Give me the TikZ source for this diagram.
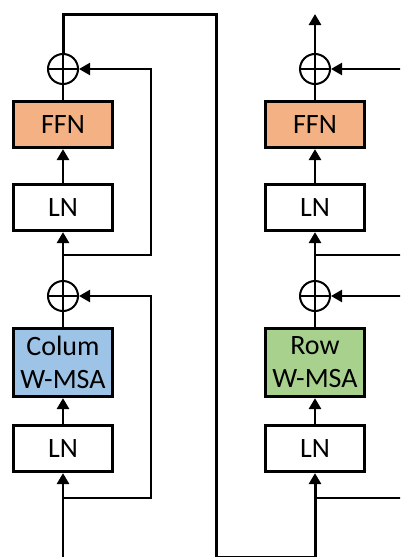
\documentclass[tikz,border=0pt]{standalone}
\usepackage{fontspec}
\setmainfont{Carlito}
\usetikzlibrary{arrows.meta}
\definecolor{ffnc}{HTML}{F4B183}
\definecolor{colc}{HTML}{9DC3E6}
\definecolor{rowc}{HTML}{A9D18E}
\begin{document}
\begin{tikzpicture}[x=1pt,y=-1pt,
  blk/.style={draw=black,line width=3.2pt,minimum width=99pt,minimum height=46pt,inner sep=0pt,align=center,font=\fontsize{28}{33}\selectfont},
  tall/.style={blk,minimum height=68pt},
  addop/.style={circle,draw=black,line width=2pt,minimum size=30pt,inner sep=0pt},
  mainln/.style={line width=2.8pt},
  resln/.style={line width=2.2pt},
  arr/.style={-{Triangle[width=12pt,length=11pt]}},
]
\useasboundingbox (0,0) rectangle (400,557);
\clip (0,0) rectangle (400,557);
% left column
\node[blk] (lnA) at (63,448.5) {LN};
\node[tall,fill=colc] (msaA) at (63,362.5) {Colum\\W-MSA};
\node[addop] (addA) at (63,296) {};
\node[blk] (lnB) at (63,207.5) {LN};
\node[blk,fill=ffnc] (ffnA) at (63,124.5) {FFN};
\node[addop] (addB) at (63,69) {};
% right column
\node[blk] (lnC) at (315,448.5) {LN};
\node[tall,fill=rowc] (msaC) at (315,362.5) {Row\\W-MSA};
\node[addop] (addC) at (315,296) {};
\node[blk] (lnD) at (315,207.5) {LN};
\node[blk,fill=ffnc] (ffnD) at (315,124.5) {FFN};
\node[addop] (addD) at (315,69) {};
% coordinates
\coordinate (inA) at (63,560);
\coordinate (brA) at (63,498);
\coordinate (brB) at (63,255);
\coordinate (brC) at (315,498);
\coordinate (brD) at (315,255);
\coordinate (outR) at (315,14);
\coordinate (eC) at (402,498);
\coordinate (eD) at (402,255);
\coordinate (rC) at (402,296);
\coordinate (rD) at (402,69);
% plus signs
\foreach \a in {addA,addB,addC,addD}{
  \draw[line width=2pt] (\a.west) -- (\a.east);
  \draw[line width=2pt] (\a.north) -- (\a.south);
}
% left connectors
\draw[mainln,arr] (inA) -- (lnA.south);
\draw[resln,arr] (brA) -- (151,498) -- (151,296) -- (addA.east);
\draw[mainln,arr] (lnA.north) -- (msaA.south);
\draw[mainln] (msaA.north) -- (addA.south);
\draw[mainln,arr] (addA.north) -- (lnB.south);
\draw[resln,arr] (brB) -- (151,255) -- (151,69) -- (addB.east);
\draw[mainln,arr] (lnB.north) -- (ffnA.south);
\draw[mainln] (ffnA.north) -- (addB.south);
\draw[line width=3pt,arr] (addB.north) -- (63,14) -- (216,14) -- (216,557.8) -- (315,557.8) -- (lnC.south);
% right connectors
\draw[resln] (brC) -- (eC);
\draw[resln,arr] (rC) -- (addC.east);
\draw[mainln,arr] (lnC.north) -- (msaC.south);
\draw[mainln] (msaC.north) -- (addC.south);
\draw[mainln,arr] (addC.north) -- (lnD.south);
\draw[resln] (brD) -- (eD);
\draw[resln,arr] (rD) -- (addD.east);
\draw[mainln,arr] (lnD.north) -- (ffnD.south);
\draw[mainln] (ffnD.north) -- (addD.south);
\draw[mainln,arr] (addD.north) -- (outR);
\end{tikzpicture}
\end{document}
